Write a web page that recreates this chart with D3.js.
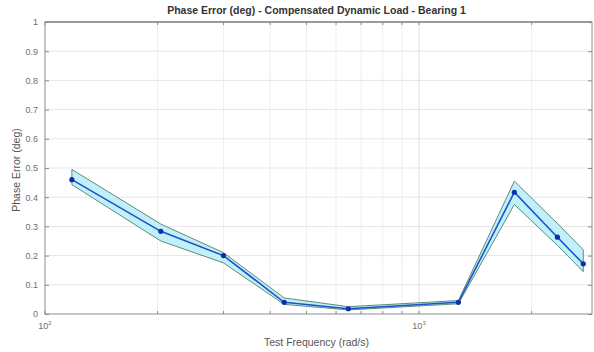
<!DOCTYPE html>
<html>
<head>
<meta charset="utf-8">
<script src="https://cdn.jsdelivr.net/npm/d3@7"></script>
<style>
body { margin: 0; background: #fff; }
text { font-family: "Liberation Sans", Arial, sans-serif; }
</style>
</head>
<body>
<svg width="594" height="352"></svg>
<script>
// test frequencies (rad/s) and phase error (deg)
var freq  = [118, 204, 300, 436, 647, 1274, 1798, 2344, 2748];
var mean  = [0.46, 0.283, 0.2, 0.04, 0.018, 0.04, 0.417, 0.263, 0.172];
var upper = [0.495, 0.308, 0.21, 0.055, 0.025, 0.046, 0.455, 0.31, 0.22];
var lower = [0.443, 0.25, 0.175, 0.033, 0.014, 0.035, 0.375, 0.235, 0.145];
var yTicks = [0, 0.1, 0.2, 0.3, 0.4, 0.5, 0.6, 0.7, 0.8, 0.9, 1];
var xMajor = [100, 1000];
var xMinor = [200, 300, 400, 500, 600, 700, 800, 900, 2000];

var svg = d3.select("svg"),
    margin = {top: 22, right: 2, bottom: 38, left: 45},
    width = +svg.attr("width") - margin.left - margin.right,
    height = +svg.attr("height") - margin.top - margin.bottom;

var x = d3.scaleLog().domain([100, 2900]).range([0, width]);
var y = d3.scaleLinear().domain([0, 1]).range([height, 0]);

var g = svg.append("g").attr("transform", "translate(" + margin.left + "," + margin.top + ")");

// grid
g.append("g").selectAll("line").data(yTicks.slice(1, -1)).enter().append("line")
  .attr("x1", 0).attr("x2", width)
  .attr("y1", function(d) { return y(d); }).attr("y2", function(d) { return y(d); })
  .attr("stroke", "#e6e6e6").attr("stroke-width", 1);
g.append("g").selectAll("line").data(xMinor.concat([1000])).enter().append("line")
  .attr("x1", function(d) { return x(d); }).attr("x2", function(d) { return x(d); })
  .attr("y1", 0).attr("y2", height)
  .attr("stroke", function(d) { return d == 1000 ? "#dedede" : "#eeeeee"; })
  .attr("stroke-width", 1);

// band
var rows = freq.map(function(f, i) { return {f: f, m: mean[i], lo: lower[i], hi: upper[i]}; });

g.append("path").datum(rows)
  .attr("fill", "#c2f0fa")
  .attr("d", d3.area()
    .x(function(d) { return x(d.f); })
    .y0(function(d) { return y(d.lo); })
    .y1(function(d) { return y(d.hi); }));

["hi", "lo"].forEach(function(k) {
  g.append("path").datum(rows)
    .attr("fill", "none")
    .attr("stroke", "#5e8c78")
    .attr("stroke-width", 1)
    .attr("d", d3.line().x(function(d) { return x(d.f); }).y(function(d) { return y(d[k]); }));
});
// band end caps
g.append("g").selectAll("line").data([rows[0], rows[rows.length - 1]]).enter().append("line")
  .attr("x1", function(d) { return x(d.f); }).attr("x2", function(d) { return x(d.f); })
  .attr("y1", function(d) { return y(d.lo); }).attr("y2", function(d) { return y(d.hi); })
  .attr("stroke", "#5e8c78").attr("stroke-width", 1);

// mean line
g.append("path").datum(rows)
  .attr("fill", "none")
  .attr("stroke", "#1a55c8")
  .attr("stroke-width", 1.6)
  .attr("d", d3.line().x(function(d) { return x(d.f); }).y(function(d) { return y(d.m); }));

g.append("g").selectAll("circle").data(rows).enter().append("circle")
  .attr("cx", function(d) { return x(d.f); })
  .attr("cy", function(d) { return y(d.m); })
  .attr("r", 2.6)
  .attr("fill", "#0a2fb0");

// frame
g.append("rect").attr("width", width).attr("height", height)
  .attr("fill", "none").attr("stroke", "#8c8c8c").attr("stroke-width", 1);
g.append("line").attr("x1", 0).attr("x2", width).attr("y1", 0).attr("y2", 0)
  .attr("stroke", "#8c8c8c").attr("stroke-width", 1.5);

// axes (MATLAB style, ticks inward)
var yAxis = g.append("g").call(d3.axisLeft(y).tickValues(yTicks).tickSize(-4)
  .tickFormat(function(d) { return d === 0 || d === 1 ? d : d3.format(".1f")(d); }));
yAxis.select(".domain").remove();
yAxis.selectAll("line").attr("stroke", "#8c8c8c");
yAxis.selectAll("text").attr("fill", "#707070").attr("font-size", 9).attr("x", -7);

var yAxisR = g.append("g").attr("transform", "translate(" + width + ",0)")
  .call(d3.axisRight(y).tickValues(yTicks).tickSize(-4).tickFormat(""));
yAxisR.select(".domain").remove();
yAxisR.selectAll("line").attr("stroke", "#8c8c8c");

// x ticks on top and bottom edges, pointing inward
[[0, 3], [height, -3]].forEach(function(p) {
  g.append("g").selectAll("line").data(xMajor.concat(xMinor)).enter().append("line")
    .attr("x1", function(d) { return x(d); }).attr("x2", function(d) { return x(d); })
    .attr("y1", p[0]).attr("y2", p[0] + p[1])
    .attr("stroke", "#8c8c8c");
});

var xl = g.append("g").selectAll("text").data(xMajor).enter().append("text")
  .attr("x", function(d) { return x(d); })
  .attr("y", height + 15)
  .attr("text-anchor", "middle")
  .attr("fill", "#707070")
  .attr("font-size", 9);
xl.append("tspan").text("10");
xl.append("tspan").attr("dy", -4).attr("font-size", 6)
  .text(function(d) { return Math.round(Math.log10(d)); });

// labels
svg.append("text")
  .attr("x", margin.left + width / 2 - 2).attr("y", 14)
  .attr("text-anchor", "middle").attr("font-size", 10.5).attr("font-weight", "bold")
  .attr("fill", "#333")
  .text("Phase Error (deg) - Compensated Dynamic Load - Bearing 1");
svg.append("text")
  .attr("x", margin.left + width / 2 - 2).attr("y", 346)
  .attr("text-anchor", "middle").attr("font-size", 10.5)
  .attr("fill", "#555")
  .text("Test Frequency (rad/s)");
svg.append("text")
  .attr("transform", "translate(20," + (margin.top + height / 2 + 2) + ") rotate(-90)")
  .attr("text-anchor", "middle").attr("font-size", 10.5)
  .attr("fill", "#555")
  .text("Phase Error (deg)");
</script>
</body>
</html>
